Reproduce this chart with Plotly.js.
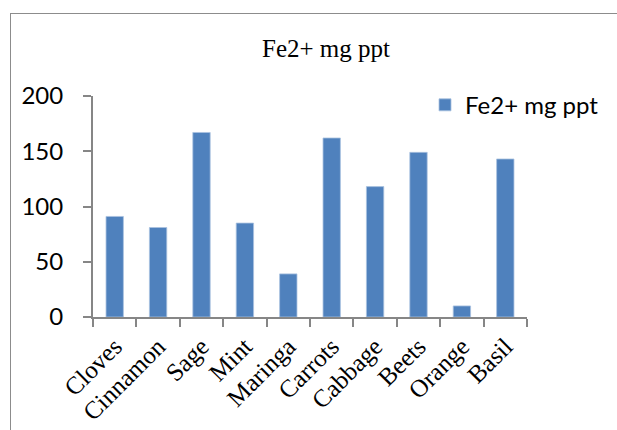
<!DOCTYPE html>
<html>
<head>
<meta charset="utf-8">
<script src="https://cdn.plot.ly/plotly-3.0.1.min.js"></script>
<style>
html,body{margin:0;padding:0;background:#fff;}
#frame{position:absolute;left:0;top:0;width:617px;height:430px;}
#border{position:absolute;left:10px;top:13px;width:607px;height:417px;border-left:1.5px solid #8c8c8c;border-top:1.5px solid #8c8c8c;pointer-events:none;}
#chart{position:absolute;left:0;top:0;width:617px;height:430px;}
</style>
</head>
<body>
<div id="frame">
<div id="chart"></div>
<div id="border"></div>
</div>
<script>
var categories = ["Cloves","Cinnamon","Sage","Mint","Maringa","Carrots","Cabbage","Beets","Orange","Basil"];
var values = [91, 81, 167, 85, 39, 162, 118, 149, 10, 143];
var seriesName = "Fe2+ mg ppt";
var chartTitle = "Fe2+ mg ppt";
var yTicks = [0, 50, 100, 150, 200];

var serif = "Liberation Serif";
var sans = "Lato";

var trace = {
  type: "bar",
  x: categories,
  y: values,
  name: seriesName,
  showlegend: true,
  marker: {color: "#4f81bd", line: {color: "#a9c1e0", width: 0.8}}
};

var layout = {
  width: 617, height: 430,
  margin: {l: 93, r: 90, t: 96, b: 113},
  paper_bgcolor: "rgba(0,0,0,0)",
  plot_bgcolor: "rgba(0,0,0,0)",
  font: {family: serif, size: 22, color: "#000"},
  bargap: 0.6,
  annotations: [{
    text: chartTitle, xref: "paper", yref: "paper",
    x: 0.537, xanchor: "center", y: 1.215, yanchor: "middle",
    showarrow: false,
    font: {family: serif, size: 25, color: "#000"}
  }],
  showlegend: true,
  legend: {x: 0.765, xanchor: "left", y: 1.06, yanchor: "top", bgcolor: "rgba(0,0,0,0)",
           font: {family: sans, size: 24, color: "#000"}},
  xaxis: {
    type: "category",
    showgrid: false, zeroline: false,
    showline: true, linecolor: "#868686", linewidth: 2,
    ticks: "outside", ticklen: 8, tickwidth: 2, tickcolor: "#868686",
    tickson: "boundaries",
    tickangle: -45,
    ticklabelstandoff: 3,
    tickfont: {family: serif, size: 25, color: "#000"}
  },
  yaxis: {
    range: [0, 200],
    tickvals: yTicks,
    ticktext: yTicks.map(String),
    showgrid: false, zeroline: false,
    showline: true, linecolor: "#868686", linewidth: 2,
    ticks: "outside", ticklen: 8, tickwidth: 2, tickcolor: "#868686",
    ticklabelstandoff: 15,
    tickfont: {family: sans, size: 24, color: "#000"}
  }
};

Plotly.newPlot("chart", [trace], layout, {displayModeBar: false, staticPlot: true});
</script>
</body>
</html>
